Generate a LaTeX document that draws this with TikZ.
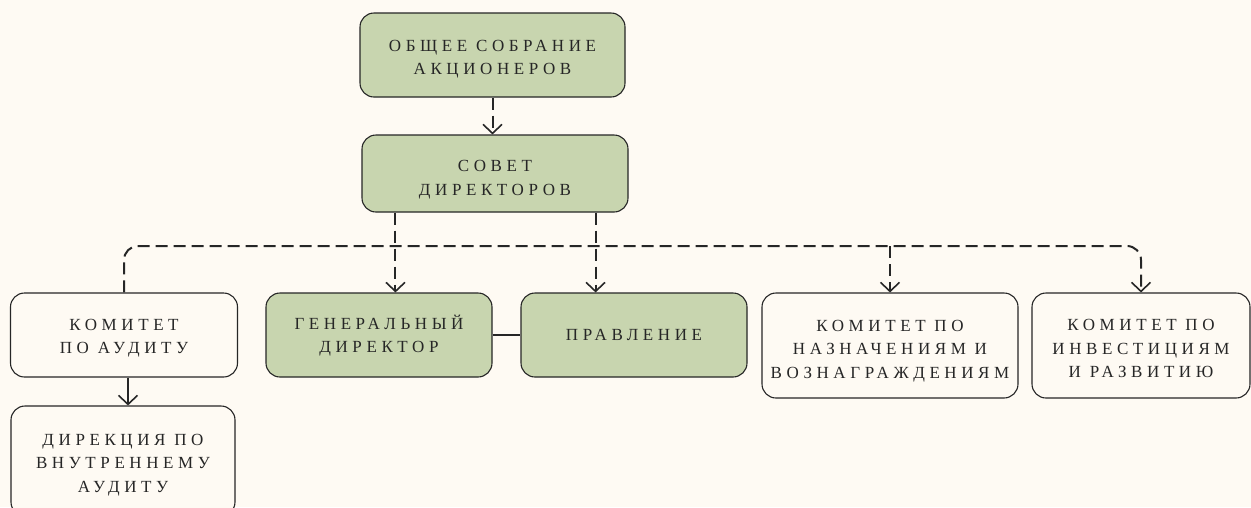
\documentclass[tikz,border=0pt]{standalone}
\usepackage{fontspec}
\setmainfont[LetterSpace=27]{Liberation Serif}
\usetikzlibrary{arrows.meta,calc}
\definecolor{bg}{HTML}{FEFAF3}
\definecolor{boxgreen}{HTML}{C8D5AF}
\definecolor{ink}{HTML}{262626}
\newcommand\lbl[2][3.5pt]{\raisebox{-#1}[\height][\depth]{\setlength\tabcolsep{0pt}\begin{tabular}{c}#2\end{tabular}}}
\tikzset{
  orgbox/.style={draw=ink, line width=1.1pt, rounded corners=14pt,
    font=\fontsize{17}{23.5}\selectfont, text=ink, inner sep=0pt},
  greenbox/.style={orgbox, fill=boxgreen},
  whitebox/.style={orgbox, fill=bg},
  conn/.style={draw=ink, line width=2pt},
  dashconn/.style={conn, dash pattern=on 12pt off 6pt},
  tip/.style={-{Straight Barb[length=9pt,width=19pt,line width=1.6pt]}}
}
\begin{document}
\begin{tikzpicture}[x=1pt,y=-1pt]
\fill[bg] (0,0) rectangle (1251,507);
\useasboundingbox (0,0) rectangle (1251,507);
\node[greenbox, minimum width=265pt, minimum height=84pt] (obs) at (492.5,55) {\lbl[3.5pt]{ОБЩЕЕ СОБРАНИЕ\\АКЦИОНЕРОВ}};
\node[greenbox, minimum width=266pt, minimum height=77pt] (sov) at (495,173.5) {\lbl[5.5pt]{СОВЕТ\\ДИРЕКТОРОВ}};
\node[whitebox, minimum width=227pt, minimum height=84pt] (aud) at (124,335) {\lbl[2.5pt]{КОМИТЕТ\\ПО АУДИТУ}};
\node[greenbox, minimum width=226pt, minimum height=84pt] (gen) at (379,335) {\lbl[1.5pt]{ГЕНЕРАЛЬНЫЙ\\ДИРЕКТОР}};
\node[greenbox, minimum width=226pt, minimum height=84pt] (pra) at (634,335) {\lbl[1pt]{ПРАВЛЕНИЕ}};
\node[whitebox, minimum width=256pt, minimum height=105pt] (naz) at (890,345.5) {\lbl[4.5pt]{КОМИТЕТ ПО\\НАЗНАЧЕНИЯМ И\\ВОЗНАГРАЖДЕНИЯМ}};
\node[whitebox, minimum width=218pt, minimum height=105pt] (inv) at (1141,345.5) {\lbl[4pt]{КОМИТЕТ ПО\\ИНВЕСТИЦИЯМ\\И РАЗВИТИЮ}};
\node[whitebox, minimum width=224pt, minimum height=110pt] (dir) at (123,461) {\lbl[3pt]{ДИРЕКЦИЯ ПО\\ВНУТРЕННЕМУ\\АУДИТУ}};
\coordinate (sl) at ($(sov.south west)+(34,0)$);
\coordinate (sr) at ($(sov.south east)+(-33,0)$);
\coordinate (bar) at (0,246);
\draw[dashconn, tip] (obs.south) -- (obs.south |- sov.north);
\draw[dashconn, rounded corners=14pt, tip] (aud.north) -- (aud.north |- bar) -- (inv.north |- bar) -- (inv.north);
\draw[dashconn, tip] (naz.north |- bar) -- (naz.north);
\draw[dashconn, tip] (sl) -- (sl |- gen.north);
\draw[dashconn, tip] (sr) -- (sr |- pra.north);
\draw[conn] (gen.east) -- (pra.west);
\draw[conn, tip] ($(aud.south)+(4,0)$) -- ($(dir.north)+(5,0)$);
\end{tikzpicture}
\end{document}
